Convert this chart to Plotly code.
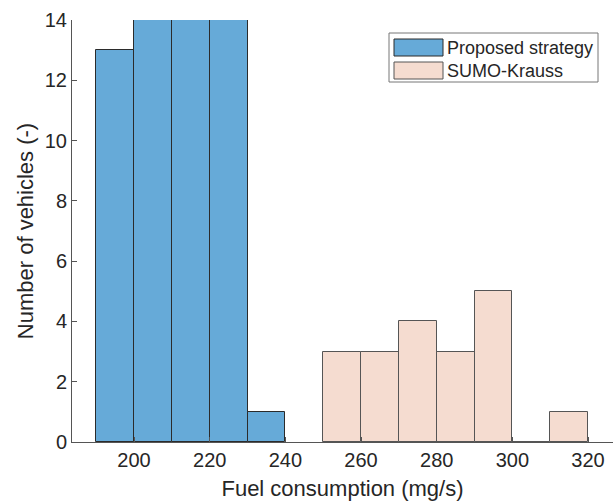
import plotly.graph_objects as go

# Histogram bins (mg/s) and vehicle counts per bin
bin_width = 10
proposed_bins = [190, 200, 210, 220, 230]
proposed_counts = [13, 14, 14, 14, 1]
sumo_bins = [250, 260, 270, 280, 290, 300, 310]
sumo_counts = [3, 3, 4, 3, 5, 0, 1]

x_ticks = [200, 220, 240, 260, 280, 300, 320]
y_ticks = [0, 2, 4, 6, 8, 10, 12, 14]

blue = "#66aad8"
peach = "#f5dcd0"
edge = "#2b2b2b"
text_col = "#262626"
font_family = "Liberation Sans, Arial, sans-serif"

fig = go.Figure()
fig.add_trace(go.Bar(
    x=[b + bin_width / 2 for b in proposed_bins], y=proposed_counts, width=bin_width,
    marker=dict(color=blue, line=dict(color=edge, width=1)),
    name="Proposed strategy", showlegend=False,
))
fig.add_trace(go.Bar(
    x=[b + bin_width / 2 for b in sumo_bins], y=sumo_counts, width=bin_width,
    marker=dict(color=peach, line=dict(color="#555555", width=1)),
    name="SUMO-Krauss", showlegend=False,
))

W, H = 613, 504
L, R, T, B = 72, 0, 20, 62
pw, ph = W - L - R, H - T - B


def px(x):
    return (x - L) / pw


def py(y):
    return 1 - (y - T) / ph


# Legend box drawn in paper coordinates
shapes = [
    dict(type="rect", xref="paper", yref="paper", x0=px(389), x1=px(598), y0=py(82), y1=py(33),
         line=dict(color="#777777", width=1), fillcolor="white", layer="above"),
    dict(type="rect", xref="paper", yref="paper", x0=px(394), x1=px(443), y0=py(56), y1=py(39),
         line=dict(color=edge, width=1), fillcolor=blue, layer="above"),
    dict(type="rect", xref="paper", yref="paper", x0=px(394), x1=px(443), y0=py(79), y1=py(62),
         line=dict(color="#555555", width=1), fillcolor=peach, layer="above"),
]
annotations = [
    dict(text="Proposed strategy", xref="paper", yref="paper", x=px(445), y=py(48),
         xanchor="left", yanchor="middle", showarrow=False,
         font=dict(size=18, color=text_col, family=font_family)),
    dict(text="SUMO-Krauss", xref="paper", yref="paper", x=px(445), y=py(71),
         xanchor="left", yanchor="middle", showarrow=False,
         font=dict(size=18, color=text_col, family=font_family)),
]

fig.update_layout(
    width=W, height=H,
    margin=dict(l=L, r=R, t=T, b=B),
    plot_bgcolor="white", paper_bgcolor="white",
    bargap=0, barmode="overlay",
    font=dict(family=font_family, size=20, color=text_col),
    shapes=shapes, annotations=annotations,
    xaxis=dict(
        range=[183.6, 326.6], tickvals=x_ticks, ticks="inside", ticklen=5,
        tickcolor="#555555", showline=True, linecolor="#555555", linewidth=1,
        showgrid=False, zeroline=False, mirror=False,
        title=dict(text="Fuel consumption (mg/s)", font=dict(size=22), standoff=10),
        tickfont=dict(size=20),
    ),
    yaxis=dict(
        range=[0, 14], tickvals=y_ticks, ticks="inside", ticklen=5,
        tickcolor="#555555", showline=True, linecolor="#555555", linewidth=1,
        showgrid=False, zeroline=False, mirror=False,
        title=dict(text="Number of vehicles (-)", font=dict(size=22), standoff=5),
        tickfont=dict(size=20),
    ),
)

fig.write_html("out.html")
